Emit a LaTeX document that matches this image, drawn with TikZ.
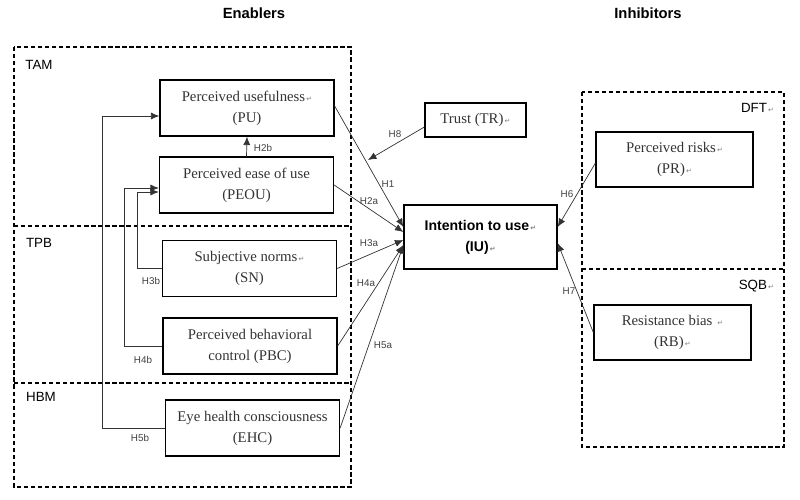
\documentclass[tikz,border=0pt]{standalone}
\usepackage{fontspec}
\setmainfont{Liberation Serif}
\setsansfont{Liberation Sans}
\newfontfamily\symfont{DejaVu Sans}
\usepackage{tikz}
\usetikzlibrary{arrows.meta,positioning,calc}

\newcommand{\pmark}{{\symfont\fontsize{5}{5}\selectfont\color{gray}\,↵}}

\tikzset{
  construct/.style={draw,line width=0.9pt,minimum width=4.35cm,minimum height=1.4cm,
    align=center,font=\fontsize{10.5}{15}\selectfont,text=black!80},
  grp/.style={dash pattern=on 3pt off 2pt,line width=0.9pt},
  grplab/.style={font=\sffamily\fontsize{9.5}{11}\selectfont},
  hyp/.style={font=\sffamily\fontsize{7}{8}\selectfont,text=black!75,inner sep=1pt},
  arr/.style={-{Latex[length=6pt,width=5pt]},line width=0.5pt,draw=black!80},
}

\begin{document}
\begin{tikzpicture}[x=0.025cm,y=-0.025cm]
\useasboundingbox (0,0) rectangle (800,499);

% headings
\node[font=\sffamily\bfseries\fontsize{10.5}{12}\selectfont] (enab) at (254,13) {Enablers};
\node[font=\sffamily\bfseries\fontsize{10.5}{12}\selectfont] (inhib) at (648,13) {Inhibitors};

% theory groups
\draw[grp] (14,47) rectangle (351,487);
\draw[grp] (14,226) -- (351,226);
\draw[grp] (14,383) -- (351,383);
\draw[grp] (582,92) rectangle (784,447);
\draw[grp] (582,269) -- (784,269);
\node[grplab] (tam) at (39,65) {TAM};
\node[grplab] (tpb) at (39,243) {TPB};
\node[grplab] (hbm) at (41,397) {HBM};
\node[grplab,anchor=east] (dft) at (779,108) {DFT\pmark};
\node[grplab,anchor=east] (sqb) at (779,286) {SQB\pmark};

% constructs
\node[construct] (PU) at (247,108) {Perceived usefulness\pmark\\(PU)};
\node[construct] (PEOU) at (246.5,185) {Perceived ease of use\\(PEOU)};
\node[construct] (SN) at (249.5,268.5) {Subjective norms\pmark\\(SN)};
\node[construct] (PBC) at (250,346) {Perceived behavioral\\control (PBC)};
\node[construct] (EHC) at (252.5,428) {Eye health consciousness\\(EHC)};
\node[construct,minimum width=2.525cm,minimum height=0.85cm] (TR) at (475.5,120) {Trust (TR)\pmark};
\node[construct,minimum width=3.825cm,minimum height=1.6cm,text=black,
  font=\sffamily\bfseries\fontsize{10}{15}\selectfont] (IU) at (480.5,237) {Intention to use\pmark\\(IU)\pmark};
\node[construct,minimum width=3.925cm,minimum height=1.375cm] (PR) at (674.5,159.5) {Perceived risks\pmark\\(PR)\pmark};
\node[construct,minimum width=3.925cm,minimum height=1.375cm] (RB) at (672.5,332.5) {Resistance bias\ \pmark\\(RB)\pmark};

% ends of the connectors
\coordinate (in1) at ([yshift=0.25cm]IU.west);
\coordinate (in2) at ([yshift=0.125cm]IU.west);
\coordinate (in3) at ([yshift=-0.075cm]IU.west);
\coordinate (in4) at ([yshift=-0.2cm]IU.west);
\coordinate (out1) at ([yshift=0.25cm]IU.east);
\coordinate (out2) at ([yshift=-0.15cm]IU.east);
\coordinate (h8end) at (368,160);

% hypotheses
\draw[arr] (PEOU.north) -- (PU.south);
\draw[arr] ([yshift=0.05cm]PU.east) -- (in1);
\draw[arr] (PEOU.east) -- (in2);
\draw[arr] (SN.east) -- (in3);
\draw[arr] (PBC.east) -- (in4);
\draw[arr] (EHC.east) -- (in4);
\draw[arr] ([yshift=-0.175cm]TR.west) -- (h8end);
\draw[arr] ([yshift=-0.09cm]PR.west) -- (out1);
\draw[arr] (RB.west) -- (out2);
\draw[arr] (EHC.west) -- ++(-62,0) |- ([yshift=-0.2cm]PU.west);
\draw[arr] (PBC.west) -- ++(-38,0) |- ([yshift=-0.075cm]PEOU.west);
\draw[arr] (SN.west) -- ++(-24,0) |- ([yshift=-0.175cm]PEOU.west);

% hypothesis labels
\node[hyp] (h2b) at (263,148) {H2b};
\node[hyp] (h1) at (388,184) {H1};
\node[hyp] (h2a) at (369,201) {H2a};
\node[hyp] (h3a) at (369,243) {H3a};
\node[hyp] (h4a) at (366,283) {H4a};
\node[hyp] (h5a) at (383,345) {H5a};
\node[hyp] (h8) at (395,134) {H8};
\node[hyp] (h3b) at (151,281) {H3b};
\node[hyp] (h4b) at (143,360) {H4b};
\node[hyp] (h5b) at (140,438) {H5b};
\node[hyp] (h6) at (567,194) {H6};
\node[hyp] (h7) at (569,291) {H7};

\end{tikzpicture}
\end{document}
